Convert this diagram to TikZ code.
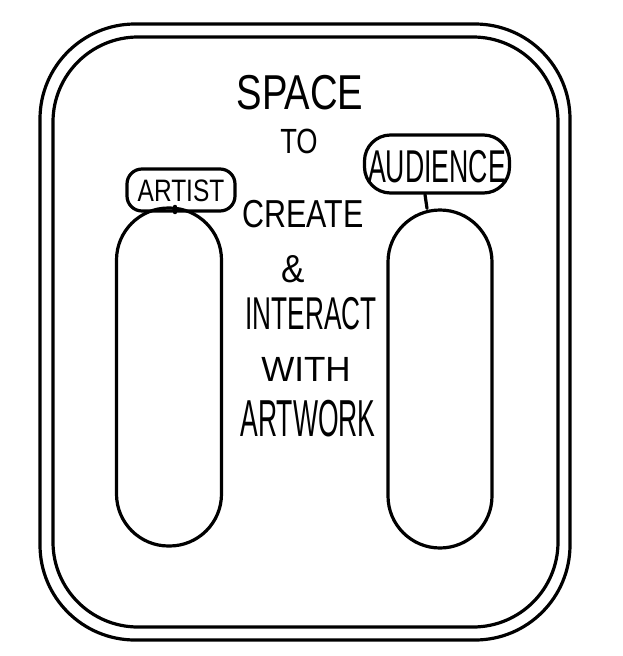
\documentclass[tikz,border=0pt]{standalone}
\usepackage{fontspec}
\newcommand\handset[2]{\fontspec[FakeStretch=#1]{Liberation Sans}\fontsize{#2}{#2}\selectfont}
\tikzset{
  pen/.style={line width=3.2pt,black,line join=round,line cap=round},
  pod/.style={pen,draw,rectangle,rounded corners=52pt,inner sep=0,
              minimum width=#1},
  pod/.default=105pt,
  tag/.style={pen,draw,rectangle,inner sep=0},
  scrawl/.style={inner sep=0,text=black},
}

\begin{document}
\begin{tikzpicture}[x=1pt,y=-1pt]
  \useasboundingbox[fill=white] (0,0) rectangle (623,656);
  % double frame
  \draw[pen,rounded corners=95] (40,24) rectangle (570,640);
  \draw[pen,rounded corners=85] (53,37) rectangle (558,627);
  % the two areas
  \node[pod,minimum height=338pt] (artistpod)   at (169,377) {};
  \node[pod=104pt,minimum height=338pt] (audiencepod) at (440,379) {};
  \node[tag,rounded corners=15pt,minimum width=108pt,minimum height=42pt]
    (artisttag) at (181,190) {};
  \node[scrawl,font={\handset{0.79}{31}}] (artisttxt) at (181,191) {ARTIST};
  \node[tag,rounded corners=26pt,minimum width=145pt,minimum height=58pt]
    (audiencetag) at (437,164) {};
  \node[scrawl,font={\handset{0.58}{46}}] (audiencetxt) at (437,167) {AUDIENCE};
  \draw[pen] ([xshift=-6pt]artisttag.south) -- ([xshift=-6pt]artisttag.south |- artistpod.north);
  \draw[pen] ([xshift=-12pt]audiencetag.south) -- ([xshift=-10pt]audiencetag.south |- audiencepod.north);
  % middle text
  \node[scrawl,font={\handset{0.78}{49}}] (space)    at (300,93)  {SPACE};
  \node[scrawl,font={\handset{0.78}{35}}] (to)       at (299,141) {TO};
  \node[scrawl,font={\handset{0.78}{39}}] (create)   at (303,214) {CREATE};
  \node[scrawl,font={\handset{0.9}{39}}]  (and)      at (293,269) {\&};
  \node[scrawl,font={\handset{0.57}{46}}] (interact) at (311,314) {INTERACT};
  \node[scrawl,font={\handset{1.0}{35}}]  (with)     at (306,369) {WITH};
  \node[scrawl,font={\handset{0.51}{52}}] (artwork)  at (308,419) {ARTWORK};
\end{tikzpicture}
\end{document}
